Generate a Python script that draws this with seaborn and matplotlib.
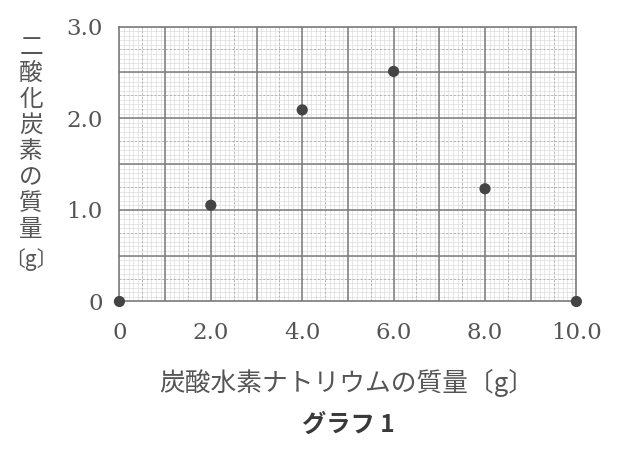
#!/usr/bin/env python3
"""Graph 1: mass of sodium hydrogen carbonate vs mass of carbon dioxide."""

import numpy as np
import matplotlib
matplotlib.use("Agg")
import matplotlib.pyplot as plt
import seaborn as sns

# Data
nahco3_g = [0.0, 2.0, 4.0, 6.0, 8.0, 10.0]
co2_g = [0.0, 1.05, 2.09, 2.51, 1.23, 0.0]
x_ticks = [0, 2, 4, 6, 8, 10]
x_tick_labels = ["0", "2.0", "4.0", "6.0", "8.0", "10.0"]
y_ticks = [0, 1, 2, 3]
y_tick_labels = ["0", "1.0", "2.0", "3.0"]
x_label = "炭酸水素ナトリウムの質量〔g〕"
y_label_chars = ["二", "酸", "化", "炭", "素", "の", "質", "量", "〔g〕"]
title = "グラフ 1"

JP = ["Noto Sans CJK JP", "DejaVu Sans"]
NUM = ["DejaVu Serif"]
W, H = 640, 451

sns.set_theme(style="white")
plt.rcParams["font.family"] = JP

fig = plt.figure(figsize=(6.4, 4.51), dpi=100)
ax = fig.add_axes([0.1866, 0.3315, 0.7140, 0.6097])

# graph-paper grid: fine lines, dashed half lines, solid major lines
for xv in np.arange(0, 10.01, 0.1):
    ax.axvline(xv, color="#dadada", lw=0.45, zorder=0)
for yv in np.arange(0, 3.001, 0.05):
    ax.axhline(yv, color="#dadada", lw=0.45, zorder=0)
for xv in np.arange(0.5, 10, 1.0):
    ax.axvline(xv, color="#b4b4b4", lw=0.7, ls=(0, (2, 2)), zorder=0.5)
for yv in np.arange(0.25, 3, 0.5):
    ax.axhline(yv, color="#b4b4b4", lw=0.7, ls=(0, (2, 2)), zorder=0.5)
for xv in np.arange(1, 10, 1.0):
    ax.axvline(xv, color="#7a7a7a", lw=1.1, zorder=1)
for yv in np.arange(0.5, 3, 0.5):
    ax.axhline(yv, color="#7a7a7a", lw=1.1, zorder=1)

sns.scatterplot(x=nahco3_g, y=co2_g, ax=ax, color="#444444", s=65,
                edgecolor="none", clip_on=False, zorder=5)

ax.set_xlim(0, 10)
ax.set_ylim(0, 3)
for sp in ax.spines.values():
    sp.set_color("#7a7a7a")
    sp.set_linewidth(1.2)

ax.set_xticks(x_ticks)
ax.set_xticklabels(x_tick_labels, family=NUM, fontsize=16.5, color="#555555")
ax.set_yticks(y_ticks)
ax.set_yticklabels(y_tick_labels, family=NUM, fontsize=16.5, color="#555555")
ax.tick_params(axis="x", length=0, pad=15)
ax.tick_params(axis="y", length=0, pad=12)

# vertical y label, one character per line (tategaki)
for i, ch in enumerate(y_label_chars):
    last = i == len(y_label_chars) - 1
    ypx = 260 if last else 48 + 25.9 * i
    fig.text(31 / W, 1 - ypx / H, ch, ha="center", va="center",
             fontsize=15 if last else 17, color="#555555")

fig.text(0.542, 0.151, x_label, ha="center", va="center",
         fontsize=18.5, color="#555555")
fig.text(0.544, 0.058, title, ha="center", va="center",
         fontsize=17.5, color="#3a3a3a", fontweight="bold")

fig.savefig("out.png", dpi=100)
